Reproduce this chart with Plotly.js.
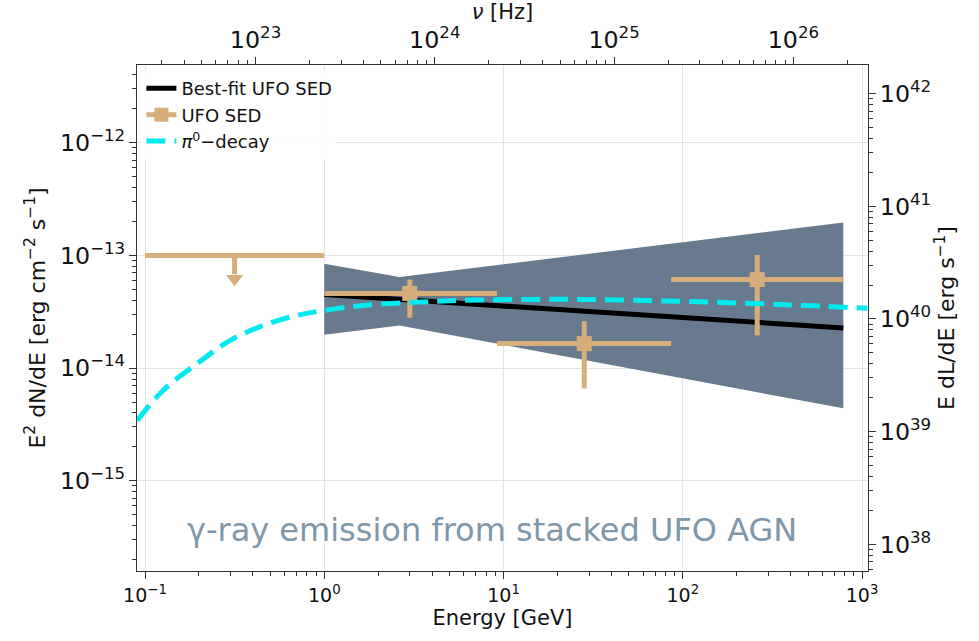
<!DOCTYPE html>
<html>
<head>
<meta charset="utf-8">
<script src="https://cdn.plot.ly/plotly-3.0.1.min.js"></script>
<style>html,body{margin:0;padding:0;background:#fff;}#chart{width:979px;height:641px;}</style>
</head>
<body>
<div id="chart"></div>
<script>
// ---- data ----
const pointE    = [3.0, 28.2, 260];
const pointEmin = [1.0, 9.2, 86];
const pointEmax = [9.2, 86, 786];
const pointF    = [4.6e-14, 1.65e-14, 6.1e-14];
const pointFlo  = [2.8e-14, 6.6e-15, 1.95e-14];
const pointFhi  = [6.1e-14, 2.6e-14, 1.01e-13];

const ulE      = [0.316];
const ulEmin   = [0.1];
const ulEmax   = [1.0];
const ulF      = [1.0e-13];
const ulShaftF = [6.8e-14];
const ulTipF   = [6.2e-14];

const fitE = [1.0, 786];
const fitF = [4.5e-14, 2.27e-14];

const bandE     = [1.0, 2.63, 786];
const bandUpper = [8.44e-14, 6.42e-14, 1.96e-13];
const bandLower = [1.98e-14, 2.39e-14, 4.39e-15];

const pi0E = [0.0906, 0.126, 0.196, 0.299, 0.457, 0.707, 1.0, 1.65, 3.14, 5.96, 14.1, 26.8, 96.9, 350, 1070];
const pi0F = [3.43e-15, 6.33e-15, 1.10e-14, 1.76e-14, 2.39e-14, 2.94e-14, 3.25e-14, 3.60e-14, 3.83e-14, 3.99e-14, 4.07e-14, 4.07e-14, 3.91e-14, 3.67e-14, 3.39e-14];

const energyTicks = [0.1, 1, 10, 100, 1000];
const energyTickText = ['10<sup>−1</sup>', '10<sup>0</sup>', '10<sup>1</sup>', '10<sup>2</sup>', '10<sup>3</sup>'];

const GeV_to_logHz = Math.log10(2.418e23);   // E = h nu
const tan = '#d6ae7b';
const cyan = '#00eaf0';
const font = 'DejaVu Sans, sans-serif';

const xRange = [-1.0446, 3.033];
const yRange = [-15.801, -11.310];
const yRightRange = [37.763, 42.254];

// minor tick positions for the energy axis (2..9 per decade)
const energyMinor = [];
for (let d = -2; d <= 3; d++) for (let m = 2; m <= 9; m++) energyMinor.push(m * Math.pow(10, d));

const traces = [
  { // butterfly band
    x: bandE.concat(bandE.slice().reverse()),
    y: bandUpper.concat(bandLower.slice().reverse()),
    type: 'scatter', mode: 'lines', fill: 'toself',
    fillcolor: '#687b8e', line: {width: 0, color: '#687b8e'},
    showlegend: false, hoverinfo: 'skip'
  },
  { // best-fit
    x: fitE, y: fitF, type: 'scatter', mode: 'lines',
    line: {color: '#000', width: 5}, name: 'Best-fit UFO SED'
  },
  { // legend proxy for UFO SED
    x: [null], y: [null], type: 'scatter', mode: 'lines+markers',
    line: {color: tan, width: 5}, marker: {symbol: 'square', size: 14, color: tan},
    name: 'UFO SED'
  },
  { // upper limit bar + shaft
    x: ulE, y: ulF, type: 'scatter', mode: 'markers',
    marker: {size: 1, color: tan, opacity: 0},
    error_x: {type: 'data', symmetric: false,
      array: ulEmax.map((v,i)=>v-ulE[i]), arrayminus: ulE.map((v,i)=>v-ulEmin[i]),
      color: tan, thickness: 5, width: 0},
    error_y: {type: 'data', symmetric: false, array: [0],
      arrayminus: ulF.map((v,i)=>v-ulShaftF[i]), color: tan, thickness: 5, width: 0},
    showlegend: false, hoverinfo: 'skip'
  },
  { // arrow head
    x: ulE, y: ulTipF, type: 'scatter', mode: 'markers',
    marker: {symbol: 'triangle-down', size: 15, color: tan},
    showlegend: false, hoverinfo: 'skip'
  },
  { // data points
    x: pointE, y: pointF, type: 'scatter', mode: 'markers',
    marker: {symbol: 'square', size: 15, color: tan},
    error_x: {type: 'data', symmetric: false,
      array: pointEmax.map((v,i)=>v-pointE[i]), arrayminus: pointE.map((v,i)=>v-pointEmin[i]),
      color: tan, thickness: 5, width: 0},
    error_y: {type: 'data', symmetric: false,
      array: pointFhi.map((v,i)=>v-pointF[i]), arrayminus: pointF.map((v,i)=>v-pointFlo[i]),
      color: tan, thickness: 5, width: 0},
    showlegend: false
  },
  { // pi0 decay
    x: pi0E, y: pi0F, type: 'scatter', mode: 'lines',
    line: {color: cyan, width: 5, dash: '19px,9px', shape: 'spline'},
    name: '<i>π</i><sup>0</sup>−decay'
  },
  // empty traces that switch on the secondary (frequency / luminosity) axes
  { x: [null], y: [null], xaxis: 'x2', yaxis: 'y', type: 'scatter', mode: 'lines', showlegend: false, hoverinfo: 'skip' },
  { x: [null], y: [null], xaxis: 'x', yaxis: 'y2', type: 'scatter', mode: 'lines', showlegend: false, hoverinfo: 'skip' }
];

const axisCommon = {
  type: 'log', showline: true, linecolor: '#333', linewidth: 1,
  ticks: 'outside', ticklen: 7, tickwidth: 1, tickcolor: '#333',
  dtick: 1, exponentformat: 'power', zeroline: false,
  tickfont: {family: font, size: 19, color: '#111'},
  minor: {ticks: 'outside', ticklen: 4, tickcolor: '#333', dtick: 'D1', showgrid: false}
};

const layout = {
  width: 979, height: 641,
  margin: {l: 137, r: 111, t: 65, b: 70},
  paper_bgcolor: '#fff', plot_bgcolor: '#fff',
  font: {family: font, color: '#111'},
  showlegend: true,
  legend: {x: 0.006, y: 0.99, xanchor: 'left', yanchor: 'top',
    bgcolor: 'rgba(255,255,255,0.9)', borderwidth: 0,
    font: {family: font, size: 18, color: '#111'}, tracegroupgap: 0},
  xaxis: Object.assign({}, axisCommon, {
    range: xRange, showgrid: true, gridcolor: '#e4e4e4',
    tickmode: 'array', tickvals: energyTicks, ticktext: energyTickText,
    minor: {ticks: 'outside', ticklen: 4, tickcolor: '#333', tickmode: 'array', tickvals: energyMinor, showgrid: false},
    title: {text: 'Energy [GeV]', font: {family: font, size: 21}, standoff: 4}
  }),
  yaxis: Object.assign({}, axisCommon, {
    range: yRange, showgrid: true, gridcolor: '#e4e4e4',
    title: {text: 'E<sup>2</sup> dN/dE [erg cm<sup>−2</sup> s<sup>−1</sup>]', font: {family: font, size: 22}, standoff: 8}
  }),
  xaxis2: Object.assign({}, axisCommon, {
    overlaying: 'x', side: 'top', anchor: 'y',
    range: [xRange[0] + GeV_to_logHz, xRange[1] + GeV_to_logHz], showgrid: false,
    title: {text: '<i>ν</i> [Hz]', font: {family: font, size: 21}, standoff: 4}
  }),
  yaxis2: Object.assign({}, axisCommon, {
    overlaying: 'y', side: 'right', anchor: 'x',
    range: yRightRange, showgrid: false,
    title: {text: 'E dL/dE [erg s<sup>−1</sup>]', font: {family: font, size: 22}, standoff: 8}
  }),
  annotations: [{
    xref: 'paper', yref: 'paper', x: 0.486, y: 0.081,
    xanchor: 'center', yanchor: 'middle', showarrow: false,
    text: 'γ-ray emission from stacked UFO AGN',
    font: {family: font, size: 32, color: '#7f97a9'}
  }]
};

Plotly.newPlot('chart', traces, layout, {displayModeBar: false, staticPlot: true});
</script>
</body>
</html>
